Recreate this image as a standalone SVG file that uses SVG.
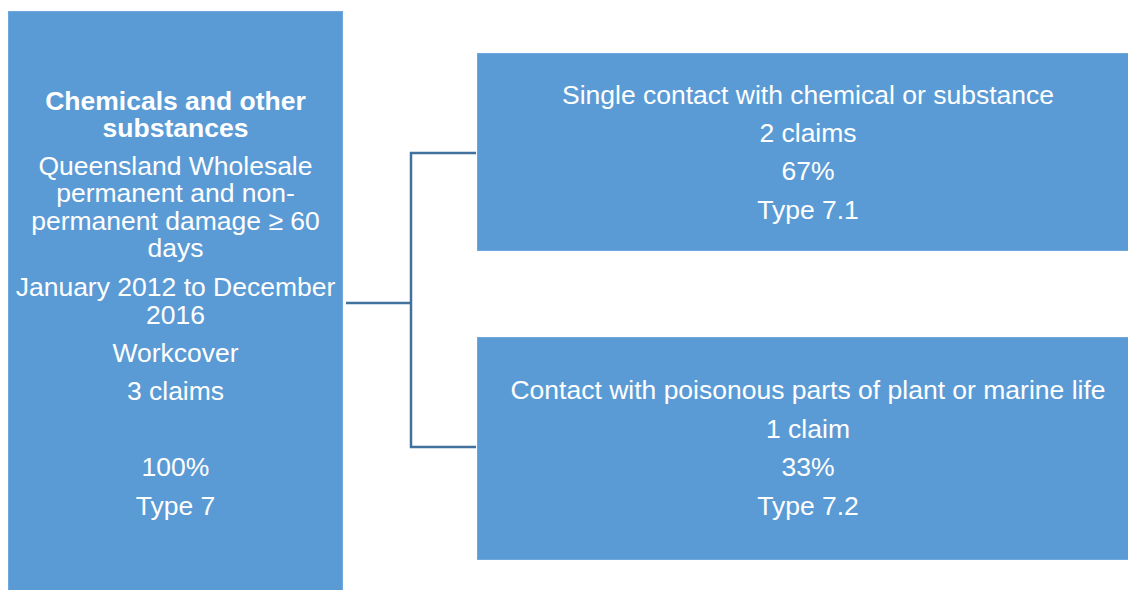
<svg xmlns="http://www.w3.org/2000/svg" width="1128" height="590" viewBox="0 0 1128 590">
  <style>
    .box { fill: #5B9BD5; stroke: #6FA8DC; stroke-width: 1; }
    .t { font-family: "Liberation Sans", Arial, sans-serif; font-size: 26.5px; fill: #FFFFFF; text-anchor: middle; }
    .b { font-weight: bold; }
    .conn { fill: none; stroke: #41719C; stroke-width: 2.5; }
  </style>
  <rect width="1128" height="590" fill="#FFFFFF"/>

  <g id="connectors">
    <path class="conn" d="M346 303 H411"/>
    <path class="conn" d="M476 153 H411 V447 H476"/>
  </g>

  <g id="node-root">
    <rect class="box" x="8.5" y="11.5" width="334" height="590"/>
    <text class="t b" x="175.5" y="110">Chemicals and other</text>
    <text class="t b" x="175.5" y="137">substances</text>
    <text class="t" x="175.5" y="175">Queensland Wholesale</text>
    <text class="t" x="175.5" y="202">permanent and non-</text>
    <text class="t" x="175.5" y="230">permanent damage ≥ 60</text>
    <text class="t" x="175.5" y="257">days</text>
    <text class="t" x="175.5" y="296">January 2012 to December</text>
    <text class="t" x="175.5" y="324">2016</text>
    <text class="t" x="175.5" y="362">Workcover</text>
    <text class="t" x="175.5" y="400">3 claims</text>
    <text class="t" x="175.5" y="476">100%</text>
    <text class="t" x="175.5" y="515">Type 7</text>
  </g>

  <g id="node-7-1">
    <rect class="box" x="477.5" y="53.5" width="670" height="197"/>
    <text class="t" x="808" y="104">Single contact with chemical or substance</text>
    <text class="t" x="808" y="142">2 claims</text>
    <text class="t" x="808" y="180">67%</text>
    <text class="t" x="808" y="219">Type 7.1</text>
  </g>

  <g id="node-7-2">
    <rect class="box" x="477.5" y="337.5" width="670" height="222"/>
    <text class="t" x="808" y="399">Contact with poisonous parts of plant or marine life</text>
    <text class="t" x="808" y="438">1 claim</text>
    <text class="t" x="808" y="476">33%</text>
    <text class="t" x="808" y="515">Type 7.2</text>
  </g>
</svg>
